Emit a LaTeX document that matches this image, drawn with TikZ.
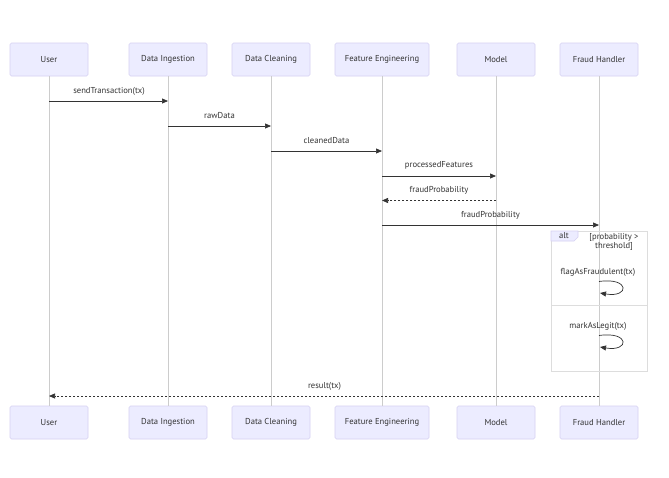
\documentclass[tikz,border=0pt]{standalone}
\usepackage{fontspec}
\setmainfont{PT Sans}
\usetikzlibrary{arrows.meta}
\definecolor{actfill}{HTML}{ECECFF}
\definecolor{actline}{HTML}{D6D1F2}
\definecolor{lifeln}{HTML}{CCCCCC}
\definecolor{msgc}{HTML}{333333}
\definecolor{framec}{HTML}{DDDDDD}
\definecolor{txtc}{HTML}{333333}
\begin{document}
\begin{tikzpicture}[x=1pt,y=-1pt,
  actor/.style={draw=actline, fill=actfill, minimum height=33pt, minimum width=78pt, inner sep=0pt,
    font=\fontsize{8.6}{10}\selectfont, text=txtc, rounded corners=1.5pt, line width=0.6pt},
  life/.style={draw=lifeln, line width=0.7pt},
  msg/.style={draw=msgc, line width=0.7pt, -{Triangle[length=6pt,width=5pt]}},
  reply/.style={msg, dash pattern=on 2pt off 2pt},
  lbl/.style={font=\fontsize{8.6}{10}\selectfont, text=txtc, inner sep=0pt},
  loopc/.style={draw=msgc, line width=0.7pt, -{Triangle[length=6pt,width=5pt]}},
]
\useasboundingbox[fill=white] (0,0) rectangle (669,477);
% top actors
\node[actor] (u1) at (49,59.5) {User};
\node[actor] (a1) at (168,59.5) {Data Ingestion};
\node[actor] (c1) at (271,59.5) {Data Cleaning};
\node[actor, minimum width=94pt] (f1) at (382,59.5) {Feature Engineering};
\node[actor] (m1) at (496,59.5) {Model};
\node[actor] (h1) at (599,59.5) {Fraud Handler};
% bottom actors
\node[actor] (u2) at (49,422.5) {User};
\node[actor] (a2) at (168,422.5) {Data Ingestion};
\node[actor] (c2) at (271,422.5) {Data Cleaning};
\node[actor, minimum width=94pt] (f2) at (382,422.5) {Feature Engineering};
\node[actor] (m2) at (496,422.5) {Model};
\node[actor] (h2) at (599,422.5) {Fraud Handler};
% lifelines
\foreach \p in {u,a,c,f,m,h} \draw[life] (\p1.south) -- (\p2.north);
% alt frame
\draw[draw=framec, line width=0.7pt] (551,231) rectangle (647,371);
\coordinate (altTL) at (551,231);
\draw[draw=framec, line width=0.6pt] (551,305.5) -- (647,305.5);
\draw[draw=actline, fill=actfill, line width=0.6pt] (altTL) -- ++(27,0) -- ++(0,6) -- ++(-4,4) -- ++(-23,0) -- cycle;
\node[lbl] (altlbl) at (564,236) {alt};
\node[lbl, align=center, font=\fontsize{8.6}{9}\selectfont] (cond) at (614,241.5) {[probability >\\threshold]};
% messages
\coordinate (y1) at (0,101);
\coordinate (y2) at (0,126);
\coordinate (y3) at (0,151);
\coordinate (y4) at (0,176);
\coordinate (y5) at (0,200.5);
\coordinate (y6) at (0,225);
\coordinate (y9) at (0,396);
\draw[msg] (u1 |- y1) -- (a1 |- y1);
\node[lbl] (l1) at (109,91) {sendTransaction(tx)};
\draw[msg] (a1 |- y2) -- (c1 |- y2);
\node[lbl] (l2) at (219.5,116) {rawData};
\draw[msg] (c1 |- y3) -- (f1 |- y3);
\node[lbl] (l3) at (326.5,141) {cleanedData};
\draw[msg] (f1 |- y4) -- (m1 |- y4);
\node[lbl] (l4) at (439,165.5) {processedFeatures};
\draw[reply] (m1 |- y5) -- (f1 |- y5);
\node[lbl] (l5) at (439,190) {fraudProbability};
\draw[msg] (f1 |- y6) -- (h1 |- y6);
\node[lbl] (l6) at (490.5,215) {fraudProbability};
% self loops
\coordinate (s1a) at (599,281.5);
\coordinate (s1b) at (600,293);
\node[lbl] (l7) at (598,272) {flagAsFraudulent(tx)};
\draw[loopc] (s1a) .. controls (630,277) and (630,298) .. (s1b);
\coordinate (s2a) at (599,335.5);
\coordinate (s2b) at (600,347);
\node[lbl] (l8) at (598,326) {markAsLegit(tx)};
\draw[loopc] (s2a) .. controls (630,331) and (630,352) .. (s2b);
% result
\draw[reply] (h1 |- y9) -- (u1 |- y9);
\node[lbl] (l9) at (324.5,386) {result(tx)};
\end{tikzpicture}
\end{document}
